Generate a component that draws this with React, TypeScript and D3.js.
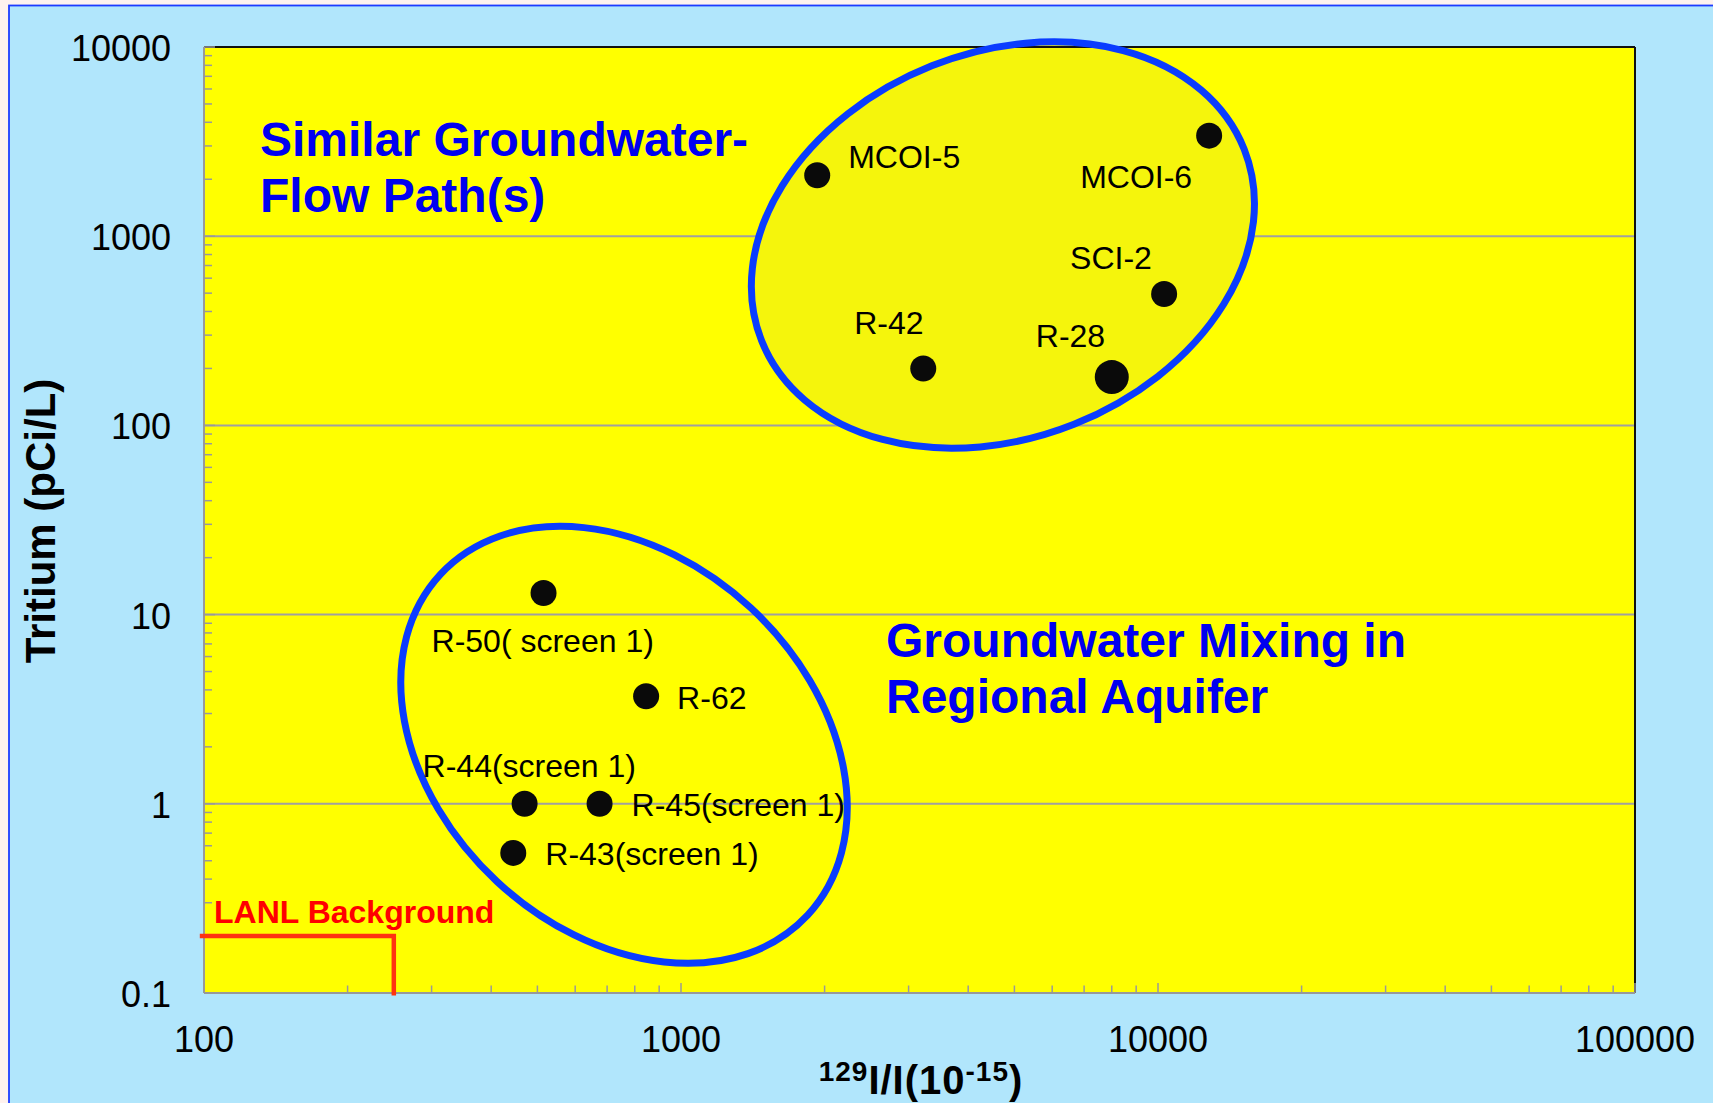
import React from "react";
import * as d3 from "d3";

// ---- data ----
const wells = ["MCOI-5", "MCOI-6", "SCI-2", "R-42", "R-28", "R-50( screen 1)", "R-62", "R-44(screen 1)", "R-45(screen 1)", "R-43(screen 1)"];
const iodineRatio = [1930, 12800, 10300, 3220, 8000, 515, 845, 470, 675, 445];
const tritium = [2100, 3400, 495, 200, 180, 13, 3.7, 1.0, 1.0, 0.55];
const xTickValues = [100, 1000, 10000, 100000];
const yTickValues = [0.1, 1, 10, 100, 1000, 10000];
const lanlBackground = { x: 250, y: 0.2 };

// ---- layout / styling (not data) ----
const W = 1713, H = 1103;
const plot = { left: 204, right: 1635, top: 47, bottom: 993 };
const labelOffsets: [number, number][] = [
  [31, -7], [-129, 52], [-94, -25], [-69, -34], [-76, -30],
  [-112, 59], [31, 13], [-102, -27], [32, 12], [32, 12],
];
const bigDot = new Set(["R-28"]);
const font = "'Liberation Sans', Arial, Helvetica, sans-serif";

export default function App() {
  const x = d3.scaleLog().domain([100, 100000]).range([plot.left, plot.right]);
  const y = d3.scaleLog().domain([0.1, 10000]).range([plot.bottom, plot.top]);

  const minorX: number[] = [];
  for (let d = 100; d < 100000; d *= 10) for (let k = 2; k <= 9; k++) minorX.push(d * k);
  const minorY: number[] = [];
  for (let d = 0.1; d < 10000; d *= 10) for (let k = 2; k <= 9; k++) minorY.push(d * k);

  const ellipses = [
    { cx: 4730, cy: 898, rx: 259.6, ry: 192.8, rot: -21.65, fill: "#F5F50C" },
    { cx: 759.5, cy: 2.05, rx: 250.5, ry: 186.6, rot: 42.87, fill: "none" },
  ];

  return (
    <svg width={W} height={H} style={{ position: "absolute", left: 0, top: 0, display: "block" }} fontFamily={font}>
      <rect x={0} y={0} width={W} height={H} fill="#FFF2EE" />
      <rect x={9} y={5.5} width={W} height={H} fill="#B1E6FC" stroke="#1E3CFF" strokeWidth={1.8} />
      <rect x={plot.left} y={plot.top} width={plot.right - plot.left} height={plot.bottom - plot.top} fill="#FFFF00" />

      {/* grid lines */}
      {yTickValues.slice(1, -1).map((v) => (
        <line key={"g" + v} x1={plot.left} x2={plot.right} y1={y(v)} y2={y(v)} stroke="#A0A0A0" strokeWidth={2} />
      ))}

      {/* ellipse fills */}
      {ellipses.map((e, i) => (
        <ellipse key={"ef" + i} cx={0} cy={0} rx={e.rx} ry={e.ry} fill={e.fill} stroke="none"
          transform={`translate(${x(e.cx)},${y(e.cy)}) rotate(${e.rot})`} />
      ))}

      {/* border top/right */}
      <line x1={plot.left} x2={plot.right} y1={plot.top} y2={plot.top} stroke="#111" strokeWidth={2} />
      <line x1={plot.right} x2={plot.right} y1={plot.top} y2={plot.bottom} stroke="#111" strokeWidth={2} />

      {/* axes */}
      <line x1={plot.left} x2={plot.left} y1={plot.top} y2={plot.bottom} stroke="#999" strokeWidth={2} />
      <line x1={plot.left} x2={plot.right} y1={plot.bottom} y2={plot.bottom} stroke="#999" strokeWidth={2} />
      {minorY.map((v) => (
        <line key={"my" + v} x1={plot.left} x2={plot.left + 8} y1={y(v)} y2={y(v)} stroke="#999" strokeWidth={1.5} />
      ))}
      {yTickValues.map((v) => (
        <line key={"My" + v} x1={plot.left} x2={plot.left + 11} y1={y(v)} y2={y(v)} stroke="#999" strokeWidth={1.5} />
      ))}
      {minorX.map((v) => (
        <line key={"mx" + v} x1={x(v)} x2={x(v)} y1={plot.bottom} y2={plot.bottom - 7.5} stroke="#999" strokeWidth={1.5} />
      ))}
      {xTickValues.map((v) => (
        <line key={"Mx" + v} x1={x(v)} x2={x(v)} y1={plot.bottom} y2={plot.bottom - 10} stroke="#999" strokeWidth={1.5} />
      ))}

      {/* tick labels */}
      {yTickValues.map((v) => (
        <text key={"yl" + v} x={171} y={y(v) + 14} textAnchor="end" fontSize={36} fill="#000">{String(v)}</text>
      ))}
      {xTickValues.map((v) => (
        <text key={"xl" + v} x={x(v)} y={1052} textAnchor="middle" fontSize={36} fill="#000">{String(v)}</text>
      ))}

      {/* axis titles */}
      <text transform="translate(55,521) rotate(-90)" textAnchor="middle" fontSize={42} fontWeight="bold" fill="#000">Tritium (pCi/L)</text>
      <text x={921} y={1094} textAnchor="middle" fontWeight="bold" fill="#000" fontSize={40} letterSpacing={1}>
        <tspan fontSize={28} dy={-13}>129</tspan>
        <tspan dy={13}>I/I(10</tspan>
        <tspan fontSize={28} dy={-13}>-15</tspan>
        <tspan dy={13}>)</tspan>
      </text>

      {/* LANL background */}
      <polyline points={`${x(98)},${y(lanlBackground.y)} ${x(lanlBackground.x)},${y(lanlBackground.y)} ${x(lanlBackground.x)},${y(0.097)}`}
        fill="none" stroke="#FF3311" strokeWidth={4.5} />
      <text x={214} y={923} fontSize={32} fontWeight="bold" fill="#FF0000">LANL Background</text>

      {/* ellipse outlines */}
      {ellipses.map((e, i) => (
        <ellipse key={"eo" + i} cx={0} cy={0} rx={e.rx} ry={e.ry} fill="none" stroke="#0A3CFF" strokeWidth={7}
          transform={`translate(${x(e.cx)},${y(e.cy)}) rotate(${e.rot})`} />
      ))}

      {/* points & labels */}
      {wells.map((w, i) => (
        <g key={w}>
          <circle cx={x(iodineRatio[i])} cy={y(tritium[i])} r={bigDot.has(w) ? 17 : 13} fill="#0A0A0A" />
          <text x={x(iodineRatio[i]) + labelOffsets[i][0]} y={y(tritium[i]) + labelOffsets[i][1]} fontSize={32} fill="#000">{w}</text>
        </g>
      ))}

      {/* annotations */}
      <text x={260} y={156} fontSize={48} fontWeight="bold" fill="#0000F0">Similar Groundwater-</text>
      <text x={260} y={211.5} fontSize={48} fontWeight="bold" fill="#0000F0">Flow Path(s)</text>
      <text x={886} y={657} fontSize={48} fontWeight="bold" fill="#0000F0">Groundwater Mixing in</text>
      <text x={886} y={712.5} fontSize={48} fontWeight="bold" fill="#0000F0">Regional Aquifer</text>
    </svg>
  );
}
